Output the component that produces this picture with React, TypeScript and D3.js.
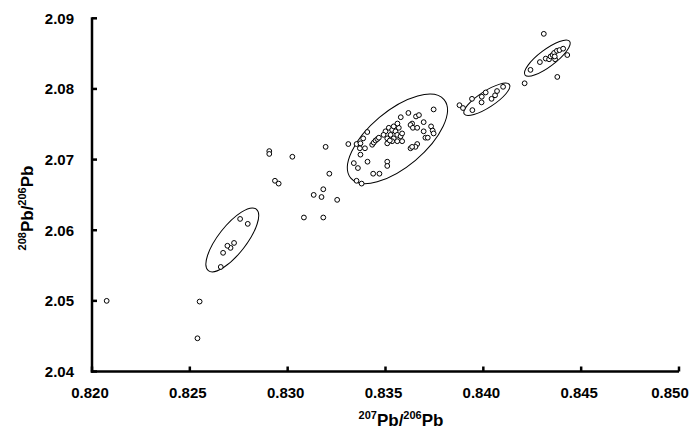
import React from "react";
import * as d3 from "d3";

const xTicks = [0.82, 0.825, 0.83, 0.835, 0.84, 0.845, 0.85];
const yTicks = [2.04, 2.05, 2.06, 2.07, 2.08, 2.09];

// 207Pb/206Pb
const pb76 = [
  0.82075, 0.8255, 0.82539, 0.82757, 0.82796, 0.82726, 0.82708, 0.82692, 0.8267, 0.82658,
  0.82906, 0.82906, 0.82935, 0.82954, 0.83024, 0.83083, 0.83182, 0.83133, 0.83173, 0.83182,
  0.83194, 0.83213, 0.83253, 0.8331, 0.83352, 0.83372, 0.83386, 0.83407, 0.83369, 0.83395,
  0.83372, 0.83338, 0.83359, 0.83408, 0.83437, 0.83469, 0.83509, 0.83509, 0.83352, 0.83378,
  0.83432, 0.8344, 0.83449, 0.83458, 0.83466, 0.835, 0.83517, 0.83534, 0.83542, 0.83526,
  0.83509, 0.83551, 0.8356, 0.83542, 0.83534, 0.83509, 0.83568, 0.83577, 0.8356, 0.83585,
  0.83585, 0.83522, 0.8349, 0.83561, 0.83578, 0.83617, 0.83656, 0.83671, 0.83746, 0.83636,
  0.83695, 0.83628, 0.8364, 0.83662, 0.83695, 0.83733, 0.83741, 0.83746, 0.83704, 0.83716,
  0.83662, 0.83653, 0.83628, 0.83636,
  0.83878, 0.83896, 0.83942, 0.83944, 0.83992, 0.83991, 0.84012, 0.84042, 0.8406, 0.8407,
  0.84101, 0.84211,
  0.84309, 0.84241, 0.84289, 0.84319, 0.84336, 0.84344, 0.84354, 0.84362, 0.84367, 0.84376,
  0.84389, 0.84408, 0.84429, 0.84378, 0.84365,
];

// 208Pb/206Pb
const pb86 = [
  2.05, 2.0499, 2.0447, 2.0616, 2.0609, 2.0582, 2.0575, 2.0578, 2.0568, 2.0548,
  2.0712, 2.0708, 2.067, 2.0666, 2.0704, 2.0618, 2.0618, 2.065, 2.0647, 2.0658,
  2.0718, 2.068, 2.0643, 2.0722, 2.0722, 2.0723, 2.073, 2.0739, 2.0716, 2.0716,
  2.0707, 2.0695, 2.0688, 2.0697, 2.068, 2.068, 2.0697, 2.0691, 2.067, 2.0666,
  2.0721, 2.0724, 2.0727, 2.0729, 2.0731, 2.074, 2.0745, 2.0742, 2.0747, 2.0735,
  2.073, 2.074, 2.0735, 2.073, 2.0726, 2.0723, 2.0745, 2.0733, 2.0726, 2.0726,
  2.0737, 2.0727, 2.0735, 2.0751, 2.076, 2.0766, 2.0761, 2.0763, 2.0771, 2.0751,
  2.0753, 2.0749, 2.0745, 2.0745, 2.074, 2.0747, 2.0741, 2.0737, 2.0731, 2.0731,
  2.0722, 2.0718, 2.0716, 2.0718,
  2.0777, 2.0773, 2.0786, 2.077, 2.0789, 2.0781, 2.0795, 2.0786, 2.0791, 2.0797,
  2.0803, 2.0808,
  2.0878, 2.0827, 2.0838, 2.0843, 2.0842, 2.0846, 2.0848, 2.0851, 2.0842, 2.0854,
  2.0855, 2.0857, 2.0848, 2.0817, 2.0846,
];

// group ellipses: centre, major semi-axis (data units), minor/major ratio
const ellCx = [0.82717, 0.83561, 0.84018, 0.84327];
const ellCy = [2.05863, 2.07293, 2.07853, 2.08436];
const ellMajDx = [0.001225, 0.002383, 0.001155, 0.001141];
const ellMajDy = [0.00435, 0.00555, 0.00208, 0.00239];
const ellRatio = [0.36, 0.46, 0.3, 0.3];

const W = 692;
const H = 429;
const FONT = "'Liberation Sans', Arial, Helvetica, sans-serif";

export default function App() {
  const x = d3.scaleLinear().domain([0.82, 0.85]).range([92, 679]);
  const y = d3.scaleLinear().domain([2.04, 2.09]).range([371.5, 18.3]);
  const fmtX = d3.format(".3f");
  const fmtY = d3.format(".2f");

  const points = pb76.map((v, i) => ({ x: v, y: pb86[i] }));
  const ellipses = ellCx.map((cx, i) => {
    const px = x(cx);
    const py = y(ellCy[i]);
    const mx = x(cx + ellMajDx[i]) - px;
    const my = y(ellCy[i] + ellMajDy[i]) - py;
    const a = Math.hypot(mx, my);
    const ang = (Math.atan2(my, mx) * 180) / Math.PI;
    return { px, py, rx: a, ry: a * ellRatio[i], ang };
  });

  const x0 = x.range()[0];
  const y0 = y.range()[0];

  return (
    <svg
      width={W}
      height={H}
      style={{ position: "absolute", left: 0, top: 0, background: "#fff" }}
      fontFamily={FONT}
    >
      {/* ellipses */}
      {ellipses.map((e, i) => (
        <ellipse
          key={"e" + i}
          cx={e.px}
          cy={e.py}
          rx={e.rx}
          ry={e.ry}
          transform={`rotate(${e.ang} ${e.px} ${e.py})`}
          fill="none"
          stroke="#000"
          strokeWidth={1}
        />
      ))}
      {/* points */}
      {points.map((p, i) => (
        <circle
          key={"p" + i}
          cx={x(p.x)}
          cy={y(p.y)}
          r={2.4}
          fill="#fff"
          stroke="#000"
          strokeWidth={1}
        />
      ))}
      {/* axes */}
      <line x1={x0} x2={x0} y1={y(2.09) - 1} y2={y0 + 1.2} stroke="#000" strokeWidth={2.5} />
      <line x1={x0 - 1.2} x2={x(0.85)} y1={y0} y2={y0} stroke="#000" strokeWidth={2.5} />
      {yTicks.map((t) => (
        <g key={"yt" + t}>
          <line x1={x0} x2={x0 + 5} y1={y(t)} y2={y(t)} stroke="#000" strokeWidth={2.5} />
          <text
            x={74}
            y={y(t)}
            dy="0.36em"
            textAnchor="end"
            fontSize={15}
            fontWeight="bold"
          >
            {fmtY(t)}
          </text>
        </g>
      ))}
      {xTicks.map((t) => (
        <g key={"xt" + t}>
          <line x1={x(t)} x2={x(t)} y1={y0} y2={y0 - 5} stroke="#000" strokeWidth={2.5} />
          <text
            x={Math.min(x(t) - 2, W - 22)}
            y={398}
            textAnchor="middle"
            fontSize={15}
            fontWeight="bold"
          >
            {fmtX(t)}
          </text>
        </g>
      ))}
      {/* axis titles */}
      <text x={401} y={426} textAnchor="middle" fontSize={17} fontWeight="bold">
        <tspan fontSize={11} dy={-7}>207</tspan>
        <tspan dy={7}>Pb/</tspan>
        <tspan fontSize={11} dy={-7}>206</tspan>
        <tspan dy={7}>Pb</tspan>
      </text>
      <text
        transform="translate(33,208) rotate(-90)"
        textAnchor="middle"
        fontSize={17}
        fontWeight="bold"
      >
        <tspan fontSize={11} dy={-7}>208</tspan>
        <tspan dy={7}>Pb/</tspan>
        <tspan fontSize={11} dy={-7}>206</tspan>
        <tspan dy={7}>Pb</tspan>
      </text>
    </svg>
  );
}
